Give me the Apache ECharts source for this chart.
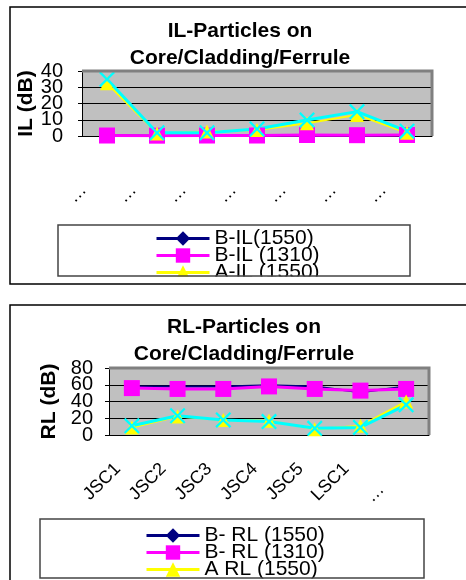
<!DOCTYPE html>
<html>
<head>
<meta charset="utf-8">
<script src="https://cdn.jsdelivr.net/npm/echarts@6/dist/echarts.min.js"></script>
<style>
  html, body { margin: 0; padding: 0; background: #fff; }
  #chart { width: 466px; height: 580px; }
</style>
</head>
<body>
<div id="chart"></div>
<script>
  // categories (top chart labels are truncated in the original)
  var categories = ['JSC1', 'JSC2', 'JSC3', 'JSC4', 'JSC5', 'LSC1', '…'];
  var ilLabels = ['…', '…', '…', '…', '…', '…', '…'];
  var ilTicks = [0, 10, 20, 30, 40];
  var rlTicks = [0, 20, 40, 60, 80];

  // IL chart values (dB)
  var ilNames = ['B-IL(1550)', 'B-IL (1310)', 'A-IL (1550)', 'A-IL (1310)'];
  var bIL1550 = [0.4, 0.2, 0.3, 0.3, 0.4, 0.3, 0.5];
  var bIL1310 = [0.3, 0.2, 0.3, 0.3, 0.6, 0.5, 0.6];
  var aIL1550 = [32.4, 1.6, 2.7, 3.7, 7.8, 13, 2];
  var aIL1310 = [34.9, 2, 2, 4.3, 9.8, 15, 3];

  // RL chart values (dB)
  var rlNames = ['B- RL (1550)', 'B- RL (1310)', 'A RL (1550)', 'A RL (1310)'];
  var bRL1550 = [58, 58, 58, 59.5, 58, 51, 58];
  var bRL1310 = [56, 55, 55, 58, 55, 53, 55];
  var aRL1550 = [9, 22, 18, 17, 7, 11, 40];
  var aRL1310 = [11, 23, 18, 16, 8, 9, 36];

  var FONT = '"Liberation Sans", Arial, sans-serif';
  var G1 = { left: 82, top: 71, width: 350, height: 65 };
  var G2 = { left: 109, top: 368, width: 320, height: 67 };
  var xMark = 'path://M0,1.6L1.6,0L8,6.4L14.4,0L16,1.6L9.6,8L16,14.4L14.4,16L8,9.6L1.6,16L0,14.4L6.4,8Z';

  var styles = [
    { color: '#000080', symbol: 'diamond', size: 10, width: 2 },
    { color: '#ff00ff', symbol: 'rect', size: 16, width: 3 },
    { color: '#ffff00', symbol: 'triangle', size: 14, width: 2 },
    { color: '#00ffff', symbol: xMark, size: 16, width: 3 }
  ];

  function makeSeries(names, lists, axisIdx) {
    return lists.map(function (d, i) {
      var s = styles[i];
      return {
        name: names[i],
        type: 'line',
        xAxisIndex: axisIdx,
        yAxisIndex: axisIdx,
        data: d,
        symbol: s.symbol,
        symbolSize: s.size,
        showAllSymbol: true,
        lineStyle: { color: s.color, width: s.width },
        itemStyle: { color: s.color, borderWidth: 0 },
        emphasis: { disabled: true }
      };
    });
  }

  // the tick labels overlap in the original, so even and odd labels go on two stacked axes
  function yAxis(grid, ticks, gap, margin, name, odd) {
    var vals = ticks.filter(function (t, i) { return (i % 2 === 1) === odd; });
    var ax = {
      type: 'value', gridIndex: grid, position: 'left', min: ticks[0], max: ticks[ticks.length - 1],
      interval: ticks[1] - ticks[0],
      axisLine: { show: !odd, lineStyle: { color: '#000', width: 1 } },
      axisTick: { show: !odd, length: 4, lineStyle: { color: '#000' } },
      axisLabel: {
        margin: margin, customValues: vals, showMinLabel: true, showMaxLabel: true, hideOverlap: false,
        fontFamily: FONT, fontSize: 20, color: '#000'
      },
      splitLine: { show: !odd, lineStyle: { color: '#000', width: 1 } }
    };
    if (!odd) {
      ax.name = name;
      ax.nameLocation = 'middle';
      ax.nameGap = gap;
      ax.nameRotate = 90;
      ax.nameMoveOverlap = false;
      ax.nameTextStyle = { fontFamily: FONT, fontSize: 21, fontWeight: 'bold', color: '#000' };
    }
    return ax;
  }

  function legend(names, left, top) {
    return {
      orient: 'vertical', left: left, top: top, height: 300,
      data: names.slice(0, 3),
      itemWidth: 53, itemHeight: 18, itemGap: -4,
      selectedMode: false,
      lineStyle: { width: 3 },
      textStyle: { fontFamily: FONT, fontSize: 21, color: '#000' }
    };
  }

  var chart = echarts.init(document.getElementById('chart'));
  chart.setOption({
    animation: false,
    backgroundColor: '#fff',
    grid: [
      Object.assign({ show: true, backgroundColor: '#c0c0c0', borderWidth: 0 }, G1),
      Object.assign({ show: true, backgroundColor: '#c0c0c0', borderWidth: 0 }, G2)
    ],
    xAxis: [
      {
        type: 'category', gridIndex: 0, data: ilLabels, boundaryGap: true,
        axisLine: { lineStyle: { color: '#000', width: 1 } },
        axisTick: { length: 6, lineStyle: { color: '#000' } },
        axisLabel: { interval: 0, rotate: 45, margin: 28, padding: [0, 33, 0, 0],
          fontFamily: FONT, fontSize: 18, color: '#000' }
      },
      {
        type: 'category', gridIndex: 1, data: categories, boundaryGap: true,
        axisLine: { lineStyle: { color: '#000', width: 1 } },
        axisTick: { length: 6, lineStyle: { color: '#000' } },
        axisLabel: {
          interval: 0, rotate: 45, margin: 17, padding: [0, 20, 0, 0],
          fontFamily: FONT, fontSize: 18, color: '#000',
          formatter: function (v) { return v === '…' ? '{e|…}' : v; },
          rich: { e: { fontFamily: FONT, fontSize: 18, color: '#000', padding: [14, 22, 0, 0] } }
        }
      }
    ],
    yAxis: [
      yAxis(0, ilTicks, 45, 19, 'IL (dB)', false),
      yAxis(1, rlTicks, 49, 16, 'RL (dB)', false),
      yAxis(0, ilTicks, 45, 19, '', true),
      yAxis(1, rlTicks, 49, 16, '', true)
    ],
    legend: [legend(ilNames, 150, 223), legend(rlNames, 140, 520)],
    series: makeSeries(ilNames, [bIL1550, bIL1310, aIL1550, aIL1310], 0)
      .concat(makeSeries(rlNames, [bRL1550, bRL1310, aRL1550, aRL1310], 1)),
    graphic: [
      // titles
      { type: 'text', z: 100, style: { text: 'IL-Particles on\nCore/Cladding/Ferrule', x: 240, y: 18,
        textAlign: 'center', textVerticalAlign: 'top', font: 'bold 21px ' + FONT, lineHeight: 27, fill: '#000' } },
      { type: 'text', z: 100, style: { text: 'RL-Particles on\nCore/Cladding/Ferrule', x: 244, y: 314,
        textAlign: 'center', textVerticalAlign: 'top', font: 'bold 21px ' + FONT, lineHeight: 27, fill: '#000' } },
      // plot area top / right edges
      { type: 'polyline', z: 100, shape: { points: [[G1.left, G1.top], [G1.left + G1.width, G1.top], [G1.left + G1.width, G1.top + G1.height]] },
        style: { stroke: '#808080', lineWidth: 3, fill: null } },
      { type: 'polyline', z: 100, shape: { points: [[G2.left, G2.top], [G2.left + G2.width, G2.top], [G2.left + G2.width, G2.top + G2.height]] },
        style: { stroke: '#808080', lineWidth: 3, fill: null } },
      // legend clipping covers
      { type: 'rect', z: 100, shape: { x: 11, y: 276.5, width: 460, height: 28 }, style: { fill: '#fff' } },
      { type: 'rect', z: 100, shape: { x: 11, y: 578.5, width: 460, height: 5 }, style: { fill: '#fff' } },
      // legend boxes
      { type: 'rect', z: 101, shape: { x: 58, y: 225, width: 352, height: 51 }, style: { stroke: '#444', lineWidth: 1.5, fill: null } },
      { type: 'rect', z: 101, shape: { x: 40, y: 519, width: 384, height: 59 }, style: { stroke: '#444', lineWidth: 1.5, fill: null } },
      // chart frames
      { type: 'rect', z: 101, shape: { x: 10, y: 7, width: 470, height: 277 }, style: { stroke: '#000', lineWidth: 1.5, fill: null } },
      { type: 'rect', z: 101, shape: { x: 10, y: 305, width: 470, height: 290 }, style: { stroke: '#000', lineWidth: 1.5, fill: null } }
    ]
  });
</script>
</body>
</html>
